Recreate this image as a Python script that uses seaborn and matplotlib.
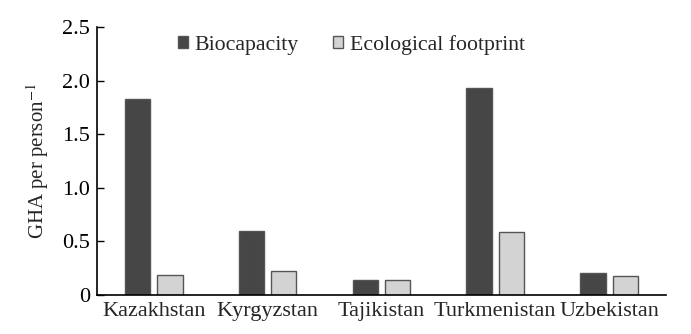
import matplotlib
matplotlib.use("Agg")
import matplotlib.pyplot as plt
import seaborn as sns
import pandas as pd
from matplotlib.ticker import FixedLocator, FixedFormatter
from matplotlib.patches import Patch

countries = ["Kazakhstan", "Kyrgyzstan", "Tajikistan", "Turkmenistan", "Uzbekistan"]
biocapacity = [1.83, 0.60, 0.14, 1.93, 0.20]
footprint = [0.19, 0.22, 0.14, 0.59, 0.18]
series = ["Biocapacity", "Ecological footprint"]
yticks = [0, 0.5, 1.0, 1.5, 2.0, 2.5]
ytick_labels = ["0", "0.5", "1.0", "1.5", "2.0", "2.5"]

df = pd.DataFrame({
    "Country": countries * 2,
    "Series": [series[0]] * len(countries) + [series[1]] * len(countries),
    "Value": biocapacity + footprint,
})

sns.set_theme(style="ticks")
plt.rcParams["font.family"] = ["Liberation Serif", "DejaVu Serif"]
plt.rcParams["mathtext.fontset"] = "stix"

fig = plt.figure(figsize=(6.91, 3.34), dpi=100)
ax = fig.add_axes([0.140, 0.117, 0.824, 0.802])

palette = {"Biocapacity": "#464646", "Ecological footprint": "#d3d3d3"}
sns.barplot(data=df, x="Country", y="Value", hue="Series", palette=palette,
            width=0.57, gap=0.22, ax=ax, edgecolor="#555555", linewidth=1.0,
            legend=False)

ax.set_xlim(-0.5, 4.5)
ax.set_ylim(0, 2.5)
ax.yaxis.set_major_locator(FixedLocator(yticks))
ax.yaxis.set_major_formatter(FixedFormatter(ytick_labels))
ax.tick_params(axis="y", direction="in", length=5, width=1, labelsize=16, colors="black", pad=5)
ax.tick_params(axis="x", length=0, labelsize=16, pad=5)
ax.set_xlabel("")
ax.set_ylabel("GHA per person$^{-1}$", fontsize=15, labelpad=8)
for s in ["top", "right"]:
    ax.spines[s].set_visible(False)
for s in ["left", "bottom"]:
    ax.spines[s].set_color("black")
    ax.spines[s].set_linewidth(1.2)

handles = [Patch(facecolor=palette[s], edgecolor="#555555", label=s) for s in series]
ax.legend(handles=handles, loc="upper center", bbox_to_anchor=(0.447, 1.045), ncol=2,
          frameon=False, fontsize=15.7, handlelength=0.45, handleheight=0.45,
          handletextpad=0.3, columnspacing=1.6)

fig.savefig("out.png", dpi=100)
